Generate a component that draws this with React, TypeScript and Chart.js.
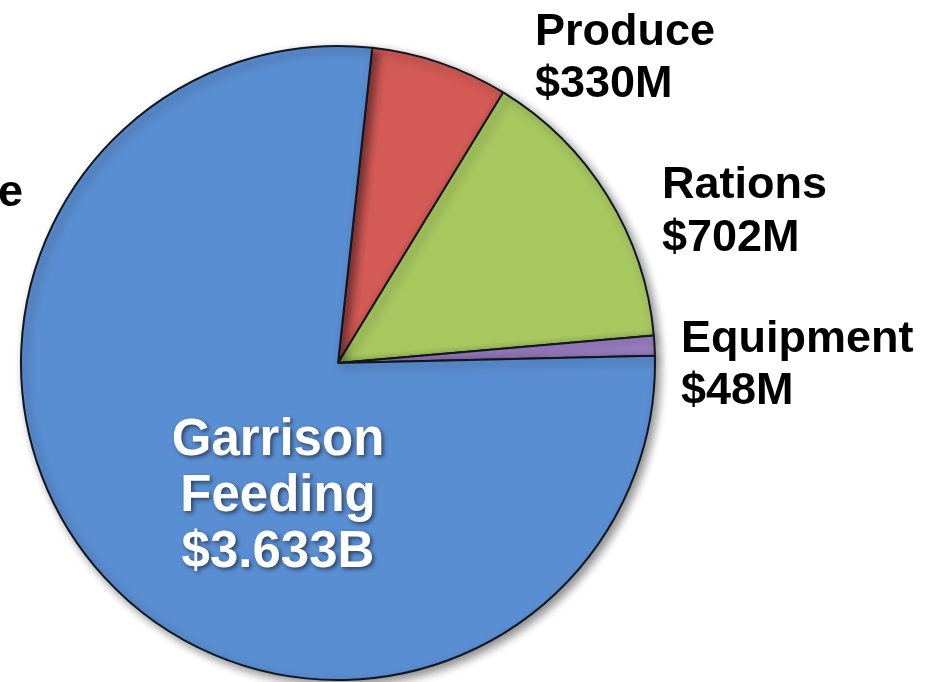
import React, { useEffect, useRef } from "react";
import { Chart, registerables } from "chart.js";

Chart.register(...registerables);

const categories = ["Produce", "Rations", "Equipment", "Garrison Feeding"];
const values = [330, 702, 48, 3633];
const valueLabels = ["$330M", "$702M", "$48M", "$3.633B"];
const colors = ["#D35A55", "#A7C75F", "#9B7EC2", "#5A8ED2"];

// label placement (layout only)
const labelLayout = [
  { x: 535, y: 45, align: "left", size: 45, color: "#000", lines: ["Produce", valueLabels[0]], gap: 52, shadow: false },
  { x: 662, y: 198, align: "left", size: 45, color: "#000", lines: ["Rations", valueLabels[1]], gap: 53, shadow: false },
  { x: 681, y: 352, align: "left", size: 45, color: "#000", lines: ["Equipment", valueLabels[2]], gap: 52, shadow: false },
  { x: 278, y: 455, align: "center", size: 51, color: "#fff", lines: ["Garrison", "Feeding", valueLabels[3]], gap: 56, shadow: true },
  { x: -2, y: 206, align: "left", size: 45, color: "#000", lines: ["e"], gap: 52, shadow: false },
];

const shadowPlugin = {
  id: "pieShadow",
  beforeDatasetsDraw(chart: any) {
    const ctx = chart.ctx;
    ctx.save();
    ctx.shadowColor = "rgba(0,0,0,0.45)";
    ctx.shadowBlur = 10;
    ctx.shadowOffsetX = 4;
    ctx.shadowOffsetY = 4;
  },
  afterDatasetsDraw(chart: any) {
    chart.ctx.restore();
  },
};

const labelPlugin = {
  id: "pieLabels",
  afterDraw(chart: any) {
    const ctx = chart.ctx;
    labelLayout.forEach((l) => {
      ctx.save();
      ctx.font = `bold ${l.size}px "Liberation Sans", Arial, sans-serif`;
      ctx.textAlign = l.align;
      ctx.textBaseline = "alphabetic";
      ctx.fillStyle = l.color;
      if (l.shadow) {
        ctx.shadowColor = "rgba(0,0,0,0.55)";
        ctx.shadowBlur = 4;
        ctx.shadowOffsetX = 2;
        ctx.shadowOffsetY = 2;
      }
      l.lines.forEach((t, i) => ctx.fillText(t, l.x, l.y + i * l.gap));
      ctx.restore();
    });
  },
};

export default function App() {
  const ref = useRef<HTMLCanvasElement>(null);
  useEffect(() => {
    if (!ref.current) return;
    const chart = new Chart(ref.current, {
      type: "pie",
      data: {
        labels: categories,
        datasets: [
          {
            data: values,
            backgroundColor: colors,
            borderColor: "#121820",
            borderWidth: 2,
          },
        ],
      },
      options: {
        animation: false,
        responsive: false,
        rotation: 6.2,
        layout: { padding: { left: 20, top: 45, right: 277, bottom: 1 } },
        plugins: {
          legend: { display: false },
          tooltip: { enabled: false },
        },
      },
      plugins: [shadowPlugin, labelPlugin],
    });
    return () => chart.destroy();
  }, []);
  return (
    <div style={{ position: "absolute", left: 0, top: 0, width: 933, height: 682, background: "#fff" }}>
      <canvas ref={ref} width={933} height={682} style={{ width: 933, height: 682 }} />
    </div>
  );
}
